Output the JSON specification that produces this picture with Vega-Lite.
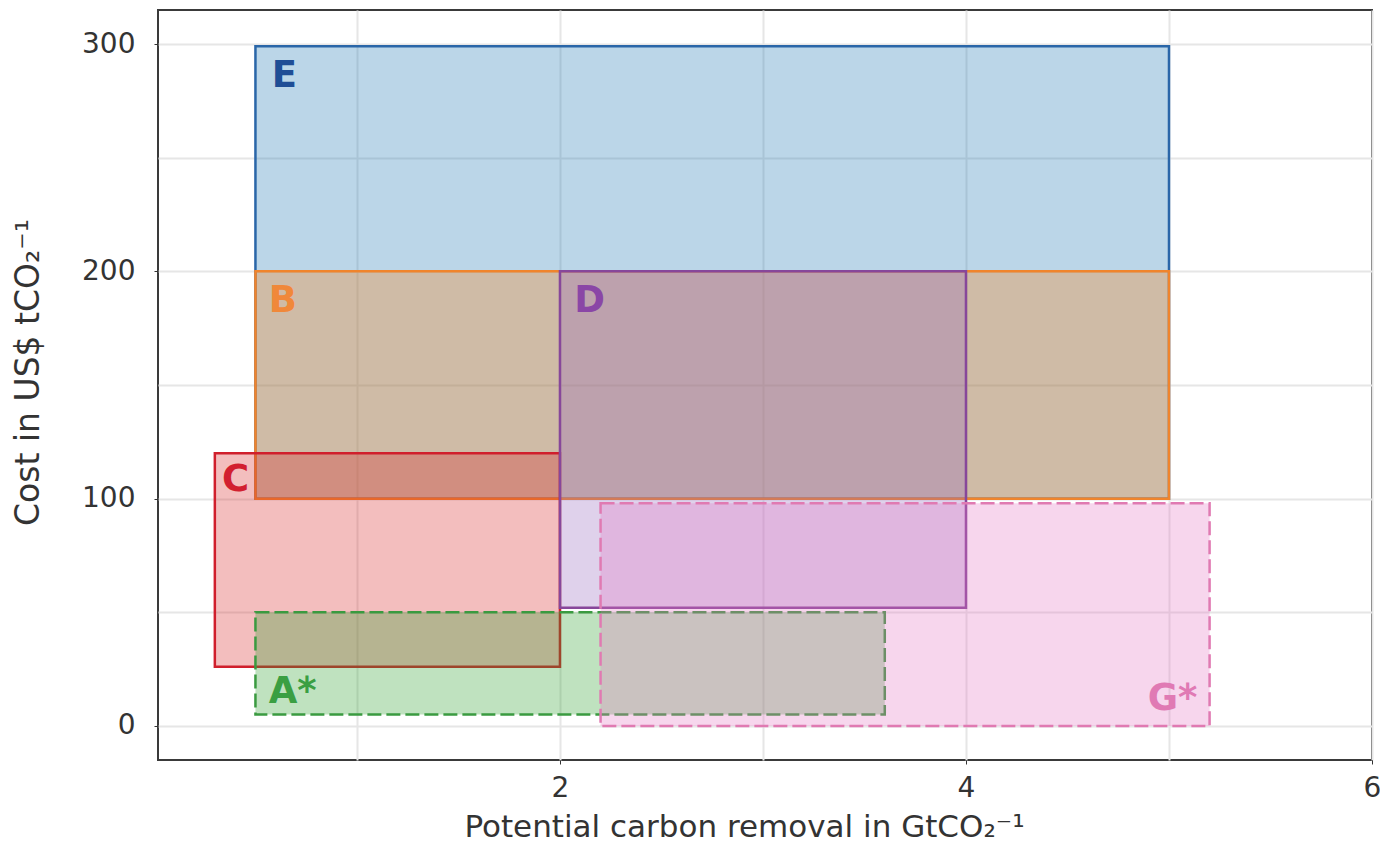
{
  "$schema": "https://vega.github.io/schema/vega-lite/v6.json",
  "width": 1214,
  "height": 750,
  "autosize": {"type": "none"},
  "padding": {"left": 158, "top": 10, "right": 8, "bottom": 83},
  "background": "white",
  "config": {
    "view": {"stroke": "#3a3a3a", "strokeWidth": 2},
    "axis": {
      "domain": false,
      "gridColor": "#e6e6e6",
      "gridWidth": 2,
      "tickColor": "#333333",
      "tickSize": 4,
      "labelFont": "DejaVu Sans",
      "labelFontSize": 28,
      "labelColor": "#333333",
      "labelFlush": false,
      "labelOverlap": false,
      "titleFont": "DejaVu Sans",
      "titleFontWeight": "normal",
      "titleColor": "#333333"
    }
  },
  "datasets": {
    "rects": [
      {"name": "E", "x0": 0.5, "x1": 5.0, "y0": 100, "y1": 299, "estimate": "no"},
      {"name": "B", "x0": 0.5, "x1": 5.0, "y0": 100, "y1": 200, "estimate": "no"},
      {"name": "C", "x0": 0.3, "x1": 2.0, "y0": 26, "y1": 120, "estimate": "no"},
      {"name": "D", "x0": 2.0, "x1": 4.0, "y0": 52, "y1": 200, "estimate": "no"},
      {"name": "A*", "x0": 0.5, "x1": 3.6, "y0": 5, "y1": 50, "estimate": "yes"},
      {"name": "G*", "x0": 2.2, "x1": 5.2, "y0": 0, "y1": 98, "estimate": "yes"}
    ],
    "labels": [
      {"name": "E", "x": 0.58, "y": 286, "side": "left"},
      {"name": "B", "x": 0.565, "y": 187, "side": "left"},
      {"name": "C", "x": 0.335, "y": 108, "side": "left"},
      {"name": "D", "x": 2.07, "y": 187, "side": "left"},
      {"name": "A*", "x": 0.565, "y": 15, "side": "left"},
      {"name": "G*", "x": 5.14, "y": 12, "side": "right"}
    ]
  },
  "layer": [
    {
      "data": {"name": "rects"},
      "transform": [{"filter": "datum.estimate === 'no'"}],
      "mark": {"type": "rect", "fillOpacity": 0.3, "strokeWidth": 2.5},
      "encoding": {
        "x": {
          "field": "x0", "type": "quantitative",
          "scale": {"domain": [0.02, 6], "nice": false, "zero": false},
          "axis": {
            "values": [1, 2, 3, 4, 5, 6],
            "format": "d",
            "labelExpr": "datum.value % 2 === 0 ? datum.label : ''",
            "tickOpacity": {"condition": {"test": "datum.value % 2 === 0", "value": 1}, "value": 0},
            "labelPadding": 10,
            "title": "Potential carbon removal in GtCO₂⁻¹",
            "titleFontSize": 31,
            "titlePadding": 10,
            "titleX": 586
          }
        },
        "x2": {"field": "x1"},
        "y": {
          "field": "y0", "type": "quantitative",
          "scale": {"domain": [-15, 315], "nice": false, "zero": false},
          "axis": {
            "values": [0, 50, 100, 150, 200, 250, 300],
            "format": "d",
            "labelExpr": "datum.value % 100 === 0 ? datum.label : ''",
            "tickOpacity": {"condition": {"test": "datum.value % 100 === 0", "value": 1}, "value": 0},
            "labelPadding": 19,
            "title": "Cost in US$ tCO₂⁻¹",
            "titleFontSize": 33,
            "titlePadding": 36,
            "titleY": 362
          }
        },
        "y2": {"field": "y1"},
        "fill": {
          "field": "name", "type": "nominal", "legend": null,
          "scale": {"domain": ["E", "B", "C", "D", "A*", "G*"],
                    "range": ["#1f77b4", "#ff7f0e", "#d62728", "#9467bd", "#2ca02c", "#e377c2"]}
        },
        "stroke": {
          "field": "name", "type": "nominal", "legend": null,
          "scale": {"domain": ["E", "B", "C", "D", "A*", "G*"],
                    "range": ["#2a66a8", "#f0842c", "#d01f2c", "#87479a", "#3a9a40", "#e07ab2"]}
        }
      }
    },
    {
      "data": {"name": "rects"},
      "transform": [{"filter": "datum.estimate === 'yes'"}],
      "mark": {"type": "rect", "fillOpacity": 0.3, "strokeWidth": 2.5, "strokeDash": [14, 5]},
      "encoding": {
        "x": {"field": "x0", "type": "quantitative"},
        "x2": {"field": "x1"},
        "y": {"field": "y0", "type": "quantitative"},
        "y2": {"field": "y1"},
        "fill": {"field": "name", "type": "nominal", "legend": null},
        "stroke": {"field": "name", "type": "nominal", "legend": null}
      }
    },
    {
      "data": {"name": "labels"},
      "transform": [{"filter": "datum.side === 'left'"}],
      "mark": {"type": "text", "align": "left", "baseline": "middle", "font": "DejaVu Sans", "fontWeight": "bold", "fontSize": 37},
      "encoding": {
        "x": {"field": "x", "type": "quantitative"},
        "y": {"field": "y", "type": "quantitative"},
        "text": {"field": "name"},
        "color": {
          "field": "name", "type": "nominal", "legend": null,
          "scale": {"domain": ["E", "B", "C", "D", "A*", "G*"],
                    "range": ["#1f4e96", "#f0883a", "#d21f30", "#8a46a6", "#3a9f42", "#e07ab4"]}
        }
      }
    },
    {
      "data": {"name": "labels"},
      "transform": [{"filter": "datum.side === 'right'"}],
      "mark": {"type": "text", "align": "right", "baseline": "middle", "font": "DejaVu Sans", "fontWeight": "bold", "fontSize": 37},
      "encoding": {
        "x": {"field": "x", "type": "quantitative"},
        "y": {"field": "y", "type": "quantitative"},
        "text": {"field": "name"},
        "color": {"field": "name", "type": "nominal", "legend": null}
      }
    }
  ]
}
